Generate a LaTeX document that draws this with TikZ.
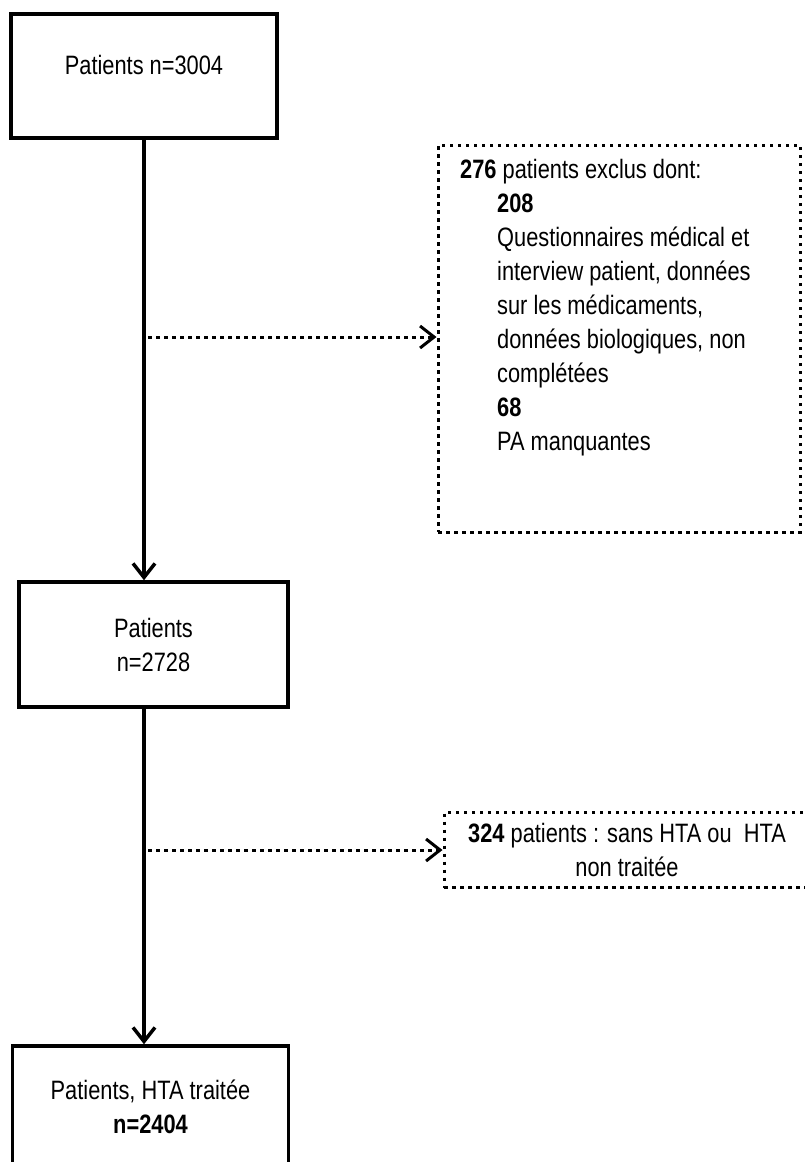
\documentclass[tikz,border=0pt]{standalone}
\usepackage{fontspec}
\setmainfont[FakeStretch=0.82]{Liberation Sans}
\usetikzlibrary{positioning}
\usetikzlibrary{arrows.meta}

\begin{document}
\begin{tikzpicture}[
        x = 1pt, y = -1pt, % one unit = one pixel of the sheet
        > = {Straight Barb[length=14pt, width=22pt]}, % open arrow head
        font = \fontsize{26.6}{34}\selectfont,
        box/.style = {draw, line width=3.5pt, inner sep=0pt, align=center},
        exclbox/.style = {draw, line width=3pt, dash pattern=on 3.5pt off 4.5pt, inner sep=0pt},
        flow/.style = {->, line width=3.5pt},
        dotflow/.style = {->, line width=3pt, dash pattern=on 3.5pt off 4.5pt}
        ]

  \useasboundingbox (0,0) rectangle (805,1162);

  \node[box, minimum width=266pt, text height=60.5pt, text depth=63.5pt] (p3004) at (144,12) [anchor=north] {Patients n=3004};
  \node[box, minimum width=269pt, minimum height=125pt] (p2728) at (153.5,644.5) {Patients\\n=2728};
  \node[box, minimum width=276pt, minimum height=121pt] (p2404) at (150.5,1106.5) {Patients, HTA traitée\\\textbf{n=2404}};

  \node[exclbox, minimum width=362pt, minimum height=387pt] (excl276) at (619,338.5) {};
  \node[anchor=north west, inner sep=0pt, align=left] (txt276) at (460,159) {\textbf{276} patients exclus dont:\\
    \hspace*{37pt}\textbf{208}\\
    \hspace*{37pt}Questionnaires médical et\\
    \hspace*{37pt}interview patient, données\\
    \hspace*{37pt}sur les médicaments,\\
    \hspace*{37pt}données biologiques, non\\
    \hspace*{37pt}complétées\\
    \hspace*{37pt}\textbf{68}\\
    \hspace*{37pt}PA manquantes};

  \node[exclbox, minimum width=366pt, minimum height=75pt, align=center] (excl324) at (627,850) {\textbf{324} patients : sans HTA ou~~HTA\\non traitée};

  \coordinate (d276) at (148,337);
  \coordinate (d324) at (148,850);

  \draw[flow] (p3004.south) -- (p3004.south |- p2728.north);
  \draw[flow] (p2728.south -| p3004.south) -- (p3004.south |- p2404.north);
  \draw[dotflow] (d276) -- (d276 -| excl276.west);
  \draw[dotflow] (d324) -- (d324 -| excl324.west);

\end{tikzpicture}
\end{document}
